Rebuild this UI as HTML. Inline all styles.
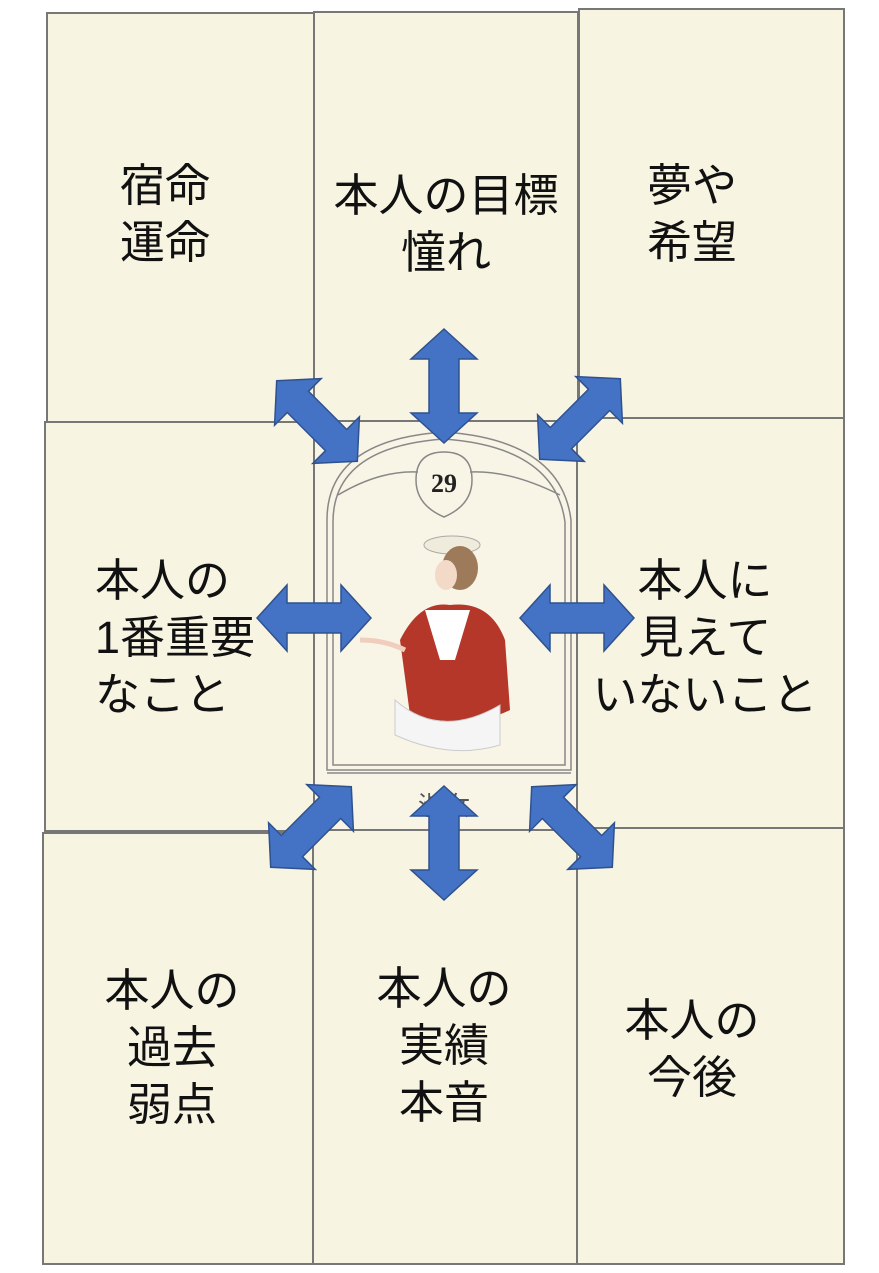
<!DOCTYPE html>
<html><head><meta charset="utf-8"><style>
body{margin:0;width:879px;height:1273px;background:#fff;position:relative;overflow:hidden;font-family:"Liberation Sans","Noto Sans CJK JP",sans-serif;}
.b{position:absolute;background:#f7f4e2;border:2px solid #777;box-sizing:border-box;}
.t{position:absolute;font-size:45px;line-height:57px;color:#111;text-align:center;white-space:nowrap;transform:translateX(-50%);}
svg{position:absolute;left:0;top:0;}
</style></head><body>
<div class="b" style="left:46px;top:12px;width:269px;height:412px"></div>
<div class="b" style="left:313px;top:11px;width:266px;height:412px"></div>
<div class="b" style="left:578px;top:8px;width:267px;height:411px"></div>
<div class="b" style="left:44px;top:421px;width:271px;height:411px"></div>
<div class="b" style="left:313px;top:420px;width:266px;height:412px;background:#f8f5e6"></div>
<div class="b" style="left:576px;top:417px;width:269px;height:413px"></div>
<div class="b" style="left:42px;top:832px;width:273px;height:433px"></div>
<div class="b" style="left:312px;top:829px;width:267px;height:436px"></div>
<div class="b" style="left:576px;top:827px;width:269px;height:438px"></div>

<svg width="879" height="1273" viewBox="0 0 879 1273">
 <g fill="none" stroke="#888" stroke-width="1.5">
  <path d="M327 770 V520 Q327 440 444 432 Q561 440 571 520 V770 Z"/>
  <path d="M333 765 V522 Q333 447 444 439 Q555 447 565 522 V765 Z"/>
  <line x1="327" y1="773" x2="571" y2="773"/>
  <path d="M444 452 Q416 452 416 480 Q416 505 444 517 Q472 505 472 480 Q472 452 444 452 Z"/>
  <path d="M338 495 Q380 470 418 472 M470 472 Q510 470 560 495"/>
 </g>
 <text x="444" y="492" font-family="Liberation Serif,serif" font-size="26" font-weight="bold" text-anchor="middle" fill="#222">29</text>
 <ellipse cx="452" cy="545" rx="28" ry="9" fill="#f0ecdc" stroke="#aaa"/>
 <ellipse cx="460" cy="568" rx="18" ry="22" fill="#9d7b5a"/>
 <ellipse cx="446" cy="575" rx="11" ry="15" fill="#f3d9c8"/>
 <path d="M400 640 Q420 600 450 605 Q490 600 505 640 L510 710 Q470 730 410 715 Z" fill="#b5372a"/>
 <path d="M425 610 L470 610 L455 660 L440 660 Z" fill="#fff"/>
 <path d="M395 700 Q440 740 500 705 L500 745 Q450 760 395 735 Z" fill="#f5f5f5" stroke="#ccc"/>
 <path d="M360 640 Q385 640 405 650" stroke="#f0cdbd" stroke-width="5" fill="none"/>
 <text x="444" y="815" font-size="26" text-anchor="middle" fill="#555" font-family="Noto Sans CJK JP,sans-serif">淑女</text>
 <defs>
  <polygon id="a" points="-57,0 -27,-33 -27,-15 27,-15 27,-33 57,0 27,33 27,15 -27,15 -27,33" fill="#4472c4" stroke="#2f528f" stroke-width="1.5"/>
 </defs>
 <use href="#a" transform="translate(444,386) rotate(90)"/>
 <use href="#a" transform="translate(444,843) rotate(90)"/>
 <use href="#a" transform="translate(314,618)"/>
 <use href="#a" transform="translate(577,618)"/>
 <use href="#a" transform="translate(317,421) rotate(45)"/>
 <use href="#a" transform="translate(580,419) rotate(-45)"/>
 <use href="#a" transform="translate(311,827) rotate(-45)"/>
 <use href="#a" transform="translate(572,827) rotate(45)"/>
</svg>

<div class="t" style="left:165px;top:157px">宿命<br>運命</div>
<div class="t" style="left:446px;top:167px">本人の目標<br>憧れ</div>
<div class="t" style="left:692px;top:157px">夢や<br>希望</div>
<div class="t" style="left:95px;top:552px;transform:none;text-align:left">本人の<br>1番重要<br>なこと</div>
<div class="t" style="left:705px;top:552px">本人に<br>見えて<br>いないこと</div>
<div class="t" style="left:172px;top:962px">本人の<br>過去<br>弱点</div>
<div class="t" style="left:444px;top:960px">本人の<br>実績<br>本音</div>
<div class="t" style="left:692px;top:992px">本人の<br>今後</div>
</body></html>
